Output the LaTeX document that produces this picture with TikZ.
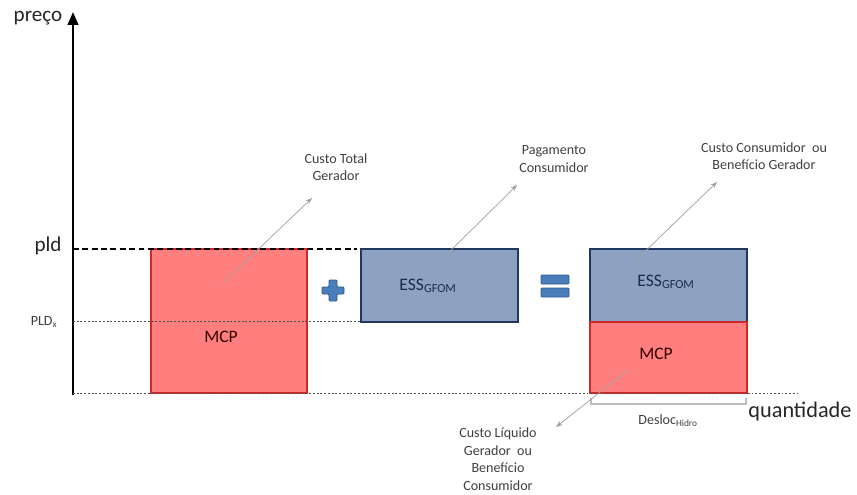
\documentclass[tikz,border=0pt]{standalone}
\usepackage{fontspec}
\setmainfont{Carlito}
\usetikzlibrary{arrows.meta}

\definecolor{mcpred}{HTML}{FF7F7F}
\definecolor{mcpedge}{HTML}{D02828}
\definecolor{essblue}{HTML}{8DA2C3}
\definecolor{essedge}{HTML}{1F3860}
\definecolor{signblue}{HTML}{4A7EBB}
\definecolor{signedge}{HTML}{2C5A8C}
\definecolor{notegray}{HTML}{A0A0A0}
\definecolor{textgray}{HTML}{404040}
\definecolor{guidegray}{HTML}{505050}

\begin{document}
\begin{tikzpicture}[x=0.03cm, y=-0.03cm, >=Stealth,
    redbox/.style={fill=mcpred, draw=mcpedge, line width=1.2pt},
    bluebox/.style={fill=essblue, draw=essedge, line width=1.2pt},
    sign/.style={fill=signblue, draw=signedge, line width=0.8pt, rounded corners=0.8pt},
    note/.style={font=\fontsize{12}{15}\selectfont, text=textgray, align=center},
    boxtext/.style={font=\fontsize{15}{18}\selectfont},
    axistext/.style={font=\fontsize{18}{20}\selectfont, text=black!85},
    pointer/.style={->, draw=notegray, line width=0.6pt},
    guide/.style={line width=0.8pt, draw=guidegray, dash pattern=on 1.6pt off 1.6pt}]
  \useasboundingbox (0,0) rectangle (857,494);

  % eixos
  \draw[line width=2pt, -{Triangle[length=11pt, width=9pt]}] (73,395) -- (73,12);
  \node[axistext] (preco) at (38,18) {preço};
  \node[axistext, font=\fontsize{19}{20}\selectfont] (qtd) at (800,412) {quantidade};

  % caixas
  \draw[redbox] (151,249) rectangle (307,393);
  \draw[bluebox] (361,249) rectangle (518,322);
  \draw[bluebox] (590,249) rectangle (747,322);
  \draw[redbox] (590,322) rectangle (747,393);

  % linhas de preco
  \draw[line width=1.2pt, dash pattern=on 5pt off 3pt] (73,249) -- (357,249);
  \node[axistext] (pld) at (48,246) {pld};
  \draw[guide] (73,321) -- (361,321);
  \node[font=\fontsize{12}{14}\selectfont, text=textgray] (pldx) at (44,322) {PLD\textsubscript{x}};
  \draw[guide] (73,393) -- (800,393);

  % sinais
  \draw[sign] (329,280) -- (337,280) -- (337,287) -- (344,287) -- (344,294) -- (337,294)
    -- (337,301) -- (329,301) -- (329,294) -- (322,294) -- (322,287) -- (329,287) -- cycle;
  \draw[sign] (541,275) rectangle (569,284);
  \draw[sign] (541,288) rectangle (569,297);

  % textos das caixas
  \node[boxtext, text=black!80!red] (mcpA) at (221,337) {MCP};
  \node[boxtext, text=essedge!80!black] (essA) at (428,286) {ESS\textsubscript{GFOM}};
  \node[boxtext, text=essedge!80!black] (essB) at (666,282) {ESS\textsubscript{GFOM}};
  \node[boxtext, text=black!80!red] (mcpB) at (656,354) {MCP};

  % deslocamento
  \draw[draw=notegray!70, line width=1pt] (591,398) -- (591,404) -- (746,404) -- (746,398);
  \node[font=\fontsize{12}{14}\selectfont, text=textgray] (desloc) at (668,421) {Desloc\textsubscript{Hidro}};

  % anotacoes
  \node[note] (totalger) at (336,167) {Custo Total\\Gerador};
  \coordinate (fromA) at (223,283);
  \coordinate (toA) at (312,198);
  \draw[pointer] (fromA) -- (toA);

  \node[note] (pagcons) at (554,159) {Pagamento\\Consumidor};
  \coordinate (fromB) at (434,267);
  \coordinate (toB) at (517,185);
  \draw[pointer] (fromB) -- (toB);

  \node[note] (custcons) at (764,156) {Custo Consumidor\ \ ou\\Benefício Gerador};
  \coordinate (fromC) at (633,263);
  \coordinate (toC) at (717,182);
  \draw[pointer] (fromC) -- (toC);

  \node[note] (liquido) at (498,459) {Custo Líquido\\Gerador\ \ ou\\Benefício\\Consumidor};
  \coordinate (fromD) at (628,370);
  \coordinate (toD) at (556,427);
  \draw[pointer] (fromD) -- (toD);
\end{tikzpicture}
\end{document}
